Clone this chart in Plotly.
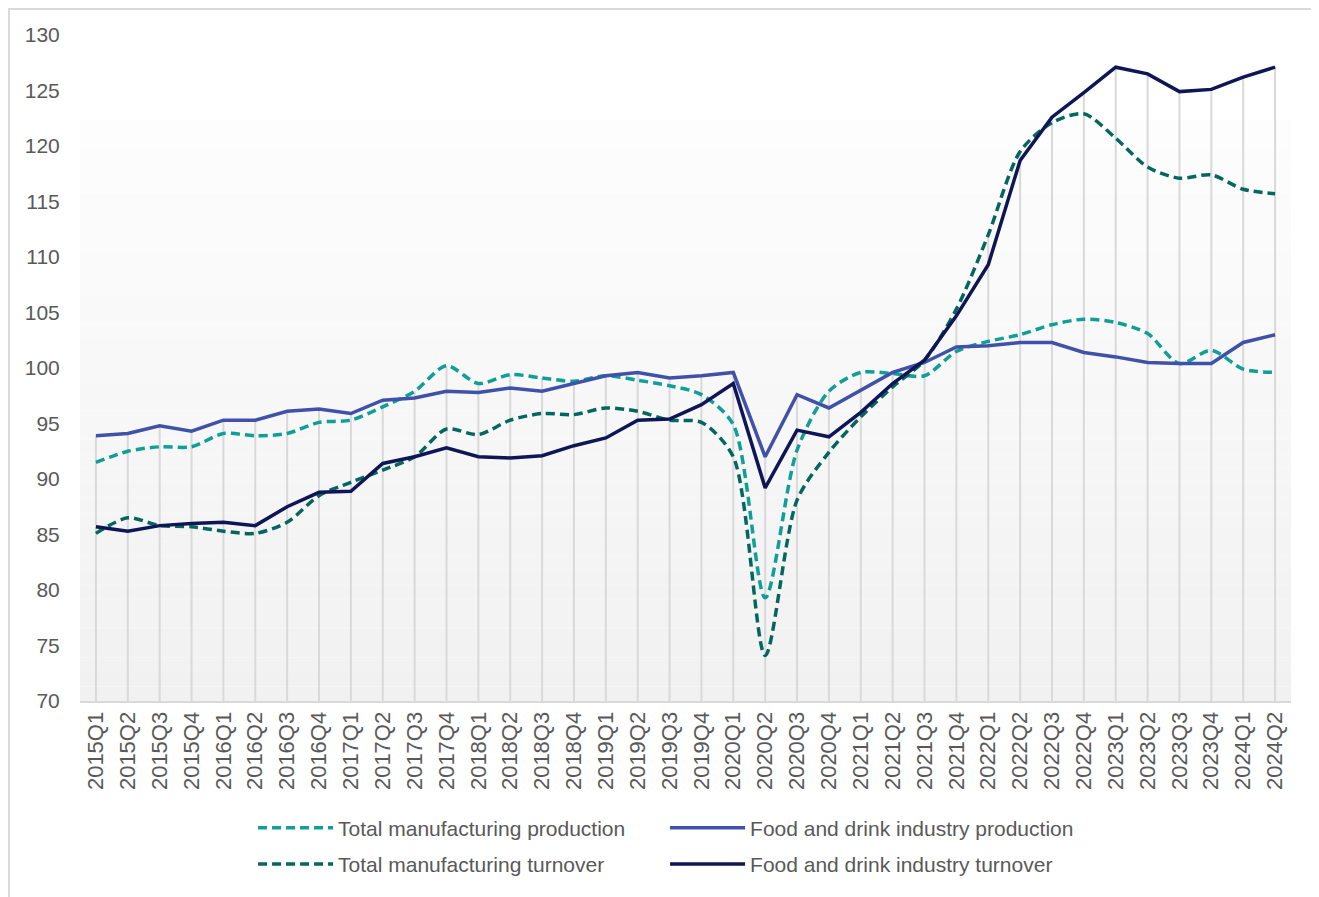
import plotly.graph_objects as go

quarters = [f"{y}Q{q}" for y in range(2015, 2025) for q in range(1, 5)][:38]

tm_production = [91.5, 92.5, 92.9, 92.9, 94.1, 93.9, 94.1, 95.1, 95.3, 96.5, 97.9, 100.2,
                 98.6, 99.4, 99.1, 98.8, 99.3, 98.9, 98.4, 97.6, 94.9, 79.3, 92.6, 97.9,
                 99.6, 99.5, 99.3, 101.5, 102.4, 103.0, 103.9, 104.4, 104.1, 103.1, 100.4, 101.6,
                 99.9, 99.6]
food_production = [93.9, 94.1, 94.8, 94.3, 95.3, 95.3, 96.1, 96.3, 95.9, 97.1, 97.3, 97.9,
                   97.8, 98.2, 97.9, 98.6, 99.3, 99.6, 99.1, 99.3, 99.6, 92.0, 97.6, 96.4,
                   98.0, 99.6, 100.5, 101.9, 102.0, 102.3, 102.3, 101.4, 101.0, 100.5, 100.4, 100.4,
                   102.3, 103.0]
tm_turnover = [85.1, 86.5, 85.8, 85.7, 85.3, 85.1, 86.1, 88.5, 89.7, 90.8, 92.0, 94.5,
               94.0, 95.3, 95.9, 95.8, 96.4, 96.1, 95.3, 95.1, 92.0, 74.1, 88.1, 92.4,
               95.6, 98.3, 100.7, 105.3, 112.0, 119.5, 122.1, 122.9, 120.7, 118.1, 117.1, 117.4,
               116.1, 115.7]
food_turnover = [85.7, 85.3, 85.8, 86.0, 86.1, 85.8, 87.5, 88.8, 88.9, 91.4, 92.0, 92.8,
                 92.0, 91.9, 92.1, 93.0, 93.7, 95.3, 95.4, 96.7, 98.6, 89.2, 94.4, 93.8,
                 96.0, 98.6, 100.7, 104.7, 109.3, 118.7, 122.6, 124.8, 127.1, 126.5, 124.9, 125.1,
                 126.2, 127.1]

y_min, y_max = 70, 130
TEXT = "#595959"
GRID = "#d9d9d9"
FONT = "Liberation Sans, Arial, sans-serif"

fig = go.Figure()

# drop lines from the highest point of each quarter to the axis
dx, dy = [], []
for i, q in enumerate(quarters):
    top = max(tm_production[i], food_production[i], tm_turnover[i], food_turnover[i])
    dx += [q, q, None]
    dy += [y_min, top, None]
fig.add_trace(go.Scatter(x=dx, y=dy, mode="lines", line=dict(color=GRID, width=2),
                         showlegend=False, hoverinfo="skip"))

fig.add_trace(go.Scatter(x=quarters, y=tm_production, name="Total manufacturing production",
                         mode="lines", line=dict(color="#0f9f98", width=3.5, dash="9px,5px",
                                                 shape="spline", smoothing=0.8), legend="legend"))
fig.add_trace(go.Scatter(x=quarters, y=food_production, name="Food and drink industry production",
                         mode="lines", line=dict(color="#3f51a8", width=3.5), legend="legend"))
fig.add_trace(go.Scatter(x=quarters, y=tm_turnover, name="Total manufacturing turnover",
                         mode="lines", line=dict(color="#04675f", width=3.5, dash="9px,5px",
                                                 shape="spline", smoothing=0.8), legend="legend2"))
fig.add_trace(go.Scatter(x=quarters, y=food_turnover, name="Food and drink industry turnover",
                         mode="lines", line=dict(color="#0e1655", width=3.5), legend="legend2"))

# plot-area gradient background (white -> light grey)
shapes = []
n = 40
g_top = 0.872
for k in range(n):
    y0 = g_top * k / n
    y1 = g_top * (k + 1) / n
    t = k / (n - 1)
    c = int(round(0xf1 + (0xfd - 0xf1) * t))
    shapes.append(dict(type="rect", xref="paper", yref="paper", x0=0, x1=1, y0=y0, y1=y1,
                       fillcolor=f"rgb({c},{c},{c})", line=dict(width=0), layer="below"))
# chart outer border
shapes.append(dict(type="rect", xref="paper", yref="paper", x0=-0.0586, x1=1.0223,
                   y0=-0.35, y1=1.039, line=dict(color=GRID, width=2),
                   fillcolor="rgba(0,0,0,0)", layer="below"))

legend_common = dict(orientation="h", x=0.1429, xanchor="left", yanchor="top",
                     entrywidth=322, entrywidthmode="pixels", font=dict(size=21, color=TEXT),
                     bgcolor="rgba(0,0,0,0)", itemwidth=75)

fig.update_layout(
    width=1311, height=889,
    margin=dict(l=72, r=28, t=27, b=196),
    paper_bgcolor="white", plot_bgcolor="white",
    font=dict(family=FONT, color=TEXT, size=21),
    shapes=shapes,
    xaxis=dict(type="category", range=[-0.5, 37.5], showgrid=False, showline=True,
               linecolor=GRID, linewidth=2, tickangle=-90, ticks="",
               tickfont=dict(size=22, color=TEXT), zeroline=False),
    yaxis=dict(range=[y_min, y_max], dtick=5, tick0=70, showgrid=False, showline=False,
               zeroline=False, ticks="outside", ticklen=15, tickcolor="rgba(0,0,0,0)",
               tickfont=dict(size=21, color=TEXT)),
    legend=dict(y=-0.160, **legend_common),
    legend2=dict(y=-0.2145, **legend_common),
    hovermode=False,
)

fig.write_html("out.html")
